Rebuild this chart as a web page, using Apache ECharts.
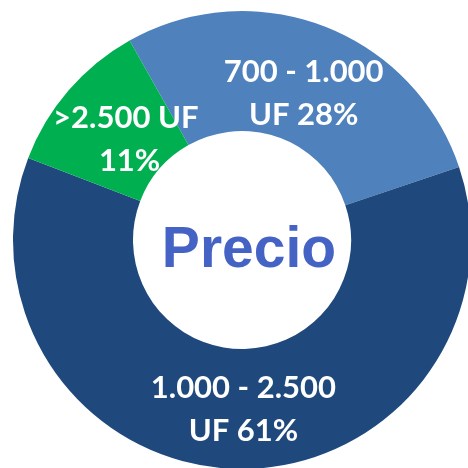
<!DOCTYPE html>
<html>
<head>
<meta charset="utf-8">
<script src="https://cdn.jsdelivr.net/npm/echarts@6/dist/echarts.min.js"></script>
<style>
  html, body { margin: 0; padding: 0; background: #fff; }
  #main_container { width: 468px; height: 468px; }
</style>
</head>
<body>
<div id="main_container"></div>
<script>
// datos del gráfico
var categorias = ["700 - 1.000\nUF", "1.000 - 2.500\nUF", ">2.500 UF\n"];
var valores = [28, 61, 11];
var colores = ["#4F81BD", "#1F497D", "#00B050"];
// desplazamiento de cada etiqueta (px)
var ajustes = [[0, 14], [5, -2], [14, 12]];

var myChart = echarts.init(document.getElementById("main_container"));

var datos = categorias.map(function (c, i) {
  return {
    name: c,
    value: valores[i],
    itemStyle: { color: colores[i] },
    label: { offset: ajustes[i] },
  };
});

myChart.setOption({
  animation: false,
  title: {
    text: "Precio",
    left: 244,
    top: 246,
    textAlign: "center",
    textVerticalAlign: "middle",
    textStyle: {
      fontFamily: "Liberation Sans",
      fontWeight: "bold",
      fontSize: 57,
      color: "#4563C4",
    },
  },
  series: [
    {
      type: "pie",
      center: [242, 240],
      radius: [109, 229],
      startAngle: 119.4,
      clockwise: true,
      avoidLabelOverlap: false,
      label: {
        show: true,
        position: "inside",
        overflow: "none",
        formatter: function (p) {
          return p.name + " " + p.value + "%";
        },
        color: "#fff",
        fontFamily: "Lato",
        fontWeight: "bold",
        fontSize: 31,
        lineHeight: 43,
      },
      labelLine: { show: false },
      emphasis: { disabled: true },
      data: datos,
    },
  ],
});
</script>
</body>
</html>
